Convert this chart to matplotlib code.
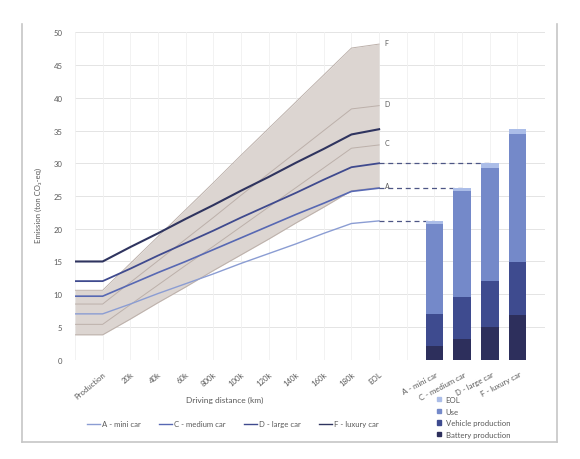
import matplotlib
matplotlib.use("Agg")
import matplotlib.pyplot as plt
from matplotlib.lines import Line2D
from matplotlib.patches import Patch
import numpy as np

plt.rcParams['font.family'] = ['Lato', 'DejaVu Sans']

# ---------------- data ----------------
line_categories = ['', 'Production', '20k', '40k', '60k', '800k', '100k', '120k',
                   '140k', '160k', '180k', 'EOL']
bar_categories = ['A - mini car', 'C - medium car', 'D - large car', 'F - luxury car']

# cumulative emissions (ton CO2-eq), low-carbon scenario (blue lines)
line_A = [7.0, 7.0, 8.5, 10.1, 11.6, 13.1, 14.7, 16.2, 17.7, 19.3, 20.8, 21.2]
line_C = [9.7, 9.7, 11.5, 13.3, 15.0, 16.8, 18.6, 20.4, 22.2, 23.9, 25.7, 26.2]
line_D = [12.0, 12.0, 13.9, 15.9, 17.8, 19.7, 21.7, 23.6, 25.5, 27.5, 29.4, 30.0]
line_F = [15.0, 15.0, 17.2, 19.3, 21.5, 23.6, 25.8, 27.9, 30.1, 32.2, 34.4, 35.2]

# alternative scenario (grey band / grey lines)
grey_A = [3.8, 3.8, 6.2, 8.7, 11.1, 13.6, 16.0, 18.4, 20.9, 23.3, 25.8, 26.3]
grey_C = [5.4, 5.4, 8.4, 11.4, 14.4, 17.3, 20.3, 23.3, 26.3, 29.3, 32.3, 32.8]
grey_D = [8.5, 8.5, 11.8, 15.1, 18.4, 21.7, 25.1, 28.4, 31.7, 35.0, 38.3, 38.8]
grey_F = [10.6, 10.6, 14.7, 18.8, 22.9, 27.0, 31.2, 35.3, 39.4, 43.5, 47.6, 48.2]
grey_labels = ['A', 'C', 'D', 'F']

# stacked bar components
battery = [2.1, 3.2, 5.0, 6.9]
vehicle = [4.9, 6.4, 7.0, 8.0]
use = [13.8, 16.1, 17.3, 19.5]
eol = [0.4, 0.5, 0.7, 0.9]
dashed_for = [0, 1, 2]   # bars linked to line end with dashed line

line_names = ['A - mini car', 'C - medium car', 'D - large car', 'F - luxury car']
stack_names = ['EOL', 'Use', 'Vehicle production', 'Battery production']

# ---------------- style ----------------
line_colors = ['#8b9dd3', '#5768b3', '#3f4a8e', '#2f345f']
line_widths = [1.0, 1.2, 1.3, 1.5]
band_color = '#dcd5d1'
grey_line_color = '#bcb0aa'
bar_colors = {'Battery production': '#2d2f5c', 'Vehicle production': '#3e4b8f',
              'Use': '#7489c9', 'EOL': '#abbde8'}
text_color = '#595959'
fs = 5.6

fig = plt.figure(figsize=(5.8, 4.6), dpi=100)
fig.patch.set_facecolor('white')
ax = fig.add_axes([75/580, 1-360.7/460, 470/580, (360.7-33.3)/460])

x = np.arange(len(line_categories))
ax.set_xlim(0, 17)
ax.set_ylim(0, 50)

# grid
ax.set_yticks(np.arange(0, 51, 5))
for yv in np.arange(0, 51, 5):
    ax.axhline(yv, color='#e4e4e4', lw=0.7, zorder=0)
for xv in range(0, 18):
    ax.axvline(xv, color='#f0f0f0', lw=0.6, zorder=0)

# band
ax.fill_between(x, grey_A, grey_F, color=band_color, lw=0, zorder=1)
for g in [grey_A, grey_C, grey_D, grey_F]:
    ax.plot(x, g, color=grey_line_color, lw=0.7, zorder=2)
for lab, g in zip(grey_labels, [grey_A, grey_C, grey_D, grey_F]):
    ax.text(x[-1] + 0.2, g[-1] + 0.3, lab, fontsize=5, color=text_color,
            va='center', ha='left', zorder=5)

# blue lines
lines_data = [line_A, line_C, line_D, line_F]
for d, c, w in zip(lines_data, line_colors, line_widths):
    ax.plot(x, d, color=c, lw=w, zorder=3)

# bars
bx = np.arange(13, 13 + len(bar_categories))
bw = 0.64
bottom = np.zeros(len(bx))
for name, vals in [('Battery production', battery), ('Vehicle production', vehicle),
                   ('Use', use), ('EOL', eol)]:
    ax.bar(bx, vals, bw, bottom=bottom, color=bar_colors[name], zorder=4, lw=0)
    bottom = bottom + np.array(vals)

# dashed connectors
for i in dashed_for:
    ax.plot([x[-1], bx[i]], [lines_data[i][-1], lines_data[i][-1]],
            color='#4d5685', lw=0.9, ls=(0, (4, 3)), zorder=3)

# ticks
ax.set_xticks([])
for spine in ax.spines.values():
    spine.set_visible(False)
ax.tick_params(axis='y', length=0, labelsize=fs, labelcolor=text_color, pad=9)

for xi, lab in zip(x[1:], line_categories[1:]):
    ax.text(xi, -1.6, lab, rotation=40, ha='right', va='top', rotation_mode='anchor',
            fontsize=fs, color=text_color)
for xi, lab in zip(bx, bar_categories):
    ax.text(xi + 0.05, -1.6, lab, rotation=28, ha='right', va='top', rotation_mode='anchor',
            fontsize=fs, color=text_color)

fig.text(38/580, 1-205/460, 'Emission (ton CO\u2082-eq)', rotation=90, ha='center',
         va='center', fontsize=fs, color=text_color)
fig.text(225/580, 1-400/460, 'Driving distance (km)', ha='center', va='center',
         fontsize=fs + 0.4, color=text_color)

# line legend
handles = [Line2D([0], [0], color=c, lw=1.0) for c in line_colors]
fig.legend(handles, line_names, loc='center', bbox_to_anchor=(233/580, 1-425/460),
           ncol=4, frameon=False, fontsize=fs, handlelength=1.6, handletextpad=0.3,
           columnspacing=2.4, labelcolor=text_color)

# bar legend
ph = [Patch(color=bar_colors[n]) for n in stack_names]
fig.legend(ph, stack_names, loc='upper left', bbox_to_anchor=(430/580, 1-390/460),
           frameon=False, fontsize=fs, handlelength=0.5, handleheight=0.5,
           handletextpad=0.6, labelspacing=0.6, labelcolor=text_color)

# frame of the screenshot
fc = '#c6c6c6'
fig.add_artist(Line2D([22/580, 22/580], [1-25/460, 1-443/460], color=fc, lw=1.2))
fig.add_artist(Line2D([557/580, 557/580], [1-25/460, 1-443/460], color=fc, lw=1.2))
fig.add_artist(Line2D([22/580, 557/580], [1-443/460, 1-443/460], color=fc, lw=1.2))

fig.savefig('out.png', dpi=100, facecolor='white')
